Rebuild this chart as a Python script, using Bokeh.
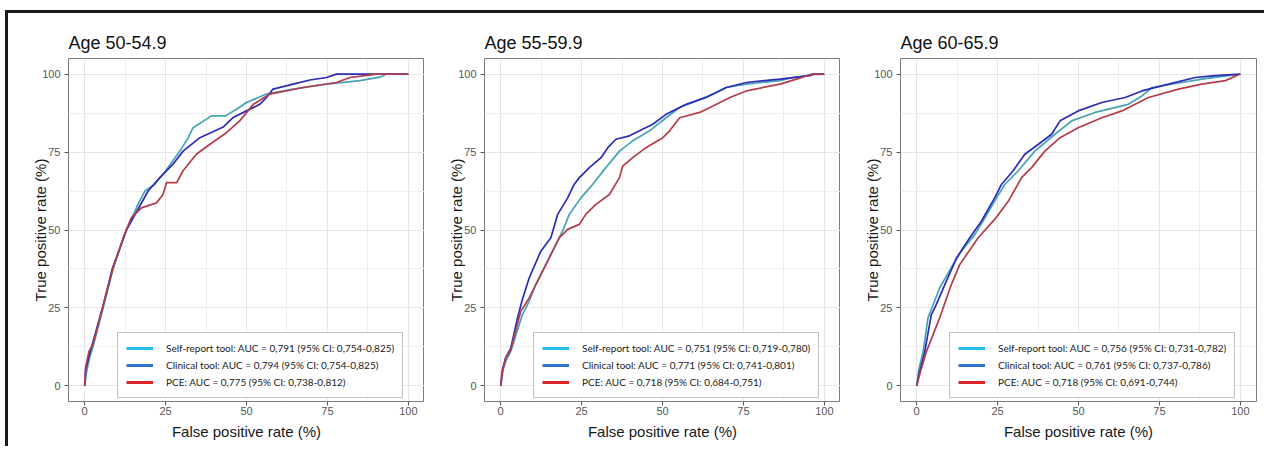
from bokeh.plotting import figure
from bokeh.layouts import row
from bokeh.models import Legend, LegendItem, FixedTicker, Range1d
from bokeh.embed import file_html
from bokeh.resources import INLINE

# ---------------- data ----------------
titles = ["Age 50-54.9", "Age 55-59.9", "Age 60-65.9"]
series_names = ["Self-report tool", "Clinical tool", "PCE"]

legend_labels_1 = ["Self-report tool: AUC = 0,791 (95% CI: 0,754-0,825)",
                   "Clinical tool: AUC = 0,794 (95% CI: 0,754-0,825)",
                   "PCE: AUC = 0,775 (95% CI: 0,738-0,812)"]
legend_labels_2 = ["Self-report tool: AUC = 0,751 (95% CI: 0,719-0,780)",
                   "Clinical tool: AUC = 0,771 (95% CI: 0,741-0,801)",
                   "PCE: AUC = 0,718 (95% CI: 0,684-0,751)"]
legend_labels_3 = ["Self-report tool: AUC = 0,756 (95% CI: 0,731-0,782)",
                   "Clinical tool: AUC = 0,761 (95% CI: 0,737-0,786)",
                   "PCE: AUC = 0,718 (95% CI: 0,691-0,744)"]

# Panel 1 (Age 50-54.9)
p1_self_fpr = [0, 0.5, 1.5, 2.7, 5.7, 8.8, 12.9, 16.5, 18.6, 21.6, 25.0, 29.4, 32.0, 33.5, 39.2, 43.5, 46.9, 50.0, 56.2, 64.4, 74.7, 85.1, 91.2, 93.3, 100]
p1_self_tpr = [0, 4, 9, 13.0, 25.0, 37.8, 50.0, 58.3, 62.5, 64.6, 68.9, 75.3, 79.6, 82.8, 86.6, 86.6, 88.7, 90.9, 93.6, 95.2, 96.8, 97.9, 99.0, 100, 100]
p1_clin_fpr = [0, 0.3, 1.2, 2.4, 5.5, 8.6, 12.9, 19.6, 23.2, 27.3, 30.4, 35.6, 42.8, 45.9, 50.0, 54.1, 56.2, 58.2, 64.4, 69.6, 74.7, 77.8, 100]
p1_clin_tpr = [0, 5, 9, 13.5, 25.0, 37.8, 50.0, 62.5, 66.8, 71.1, 75.3, 79.6, 83.0, 86.1, 88.2, 90.3, 92.5, 95.2, 96.8, 98.1, 98.9, 100, 100]
p1_pce_fpr = [0, 0.3, 1.3, 2.6, 5.6, 8.8, 11.9, 14.4, 17.5, 22.2, 24.2, 25.3, 28.4, 30.4, 34.5, 38.7, 43.8, 47.9, 52.1, 57.2, 67.5, 77.8, 82.0, 90.2, 100]
p1_pce_tpr = [0, 6, 11, 13.5, 25.5, 37.8, 47.5, 53.9, 57.1, 58.7, 61.4, 65.2, 65.2, 69.0, 74.3, 77.5, 81.2, 85.0, 90.3, 93.6, 95.7, 97.3, 98.9, 100, 100]

# Panel 2 (Age 55-59.9)
p2_self_fpr = [0, 0.7, 1.6, 3.1, 6.7, 8.8, 10.8, 13.9, 17.0, 19.1, 21.2, 24.8, 28.4, 32.5, 36.7, 40.8, 46.0, 51.1, 55.3, 60.4, 65.6, 69.7, 75.9, 86.3, 90.4, 94.5, 96.6, 100]
p2_self_tpr = [0, 5, 8, 11.0, 22.8, 27.1, 32.5, 38.9, 45.3, 49.6, 55.0, 60.3, 64.6, 70.0, 75.3, 78.6, 81.8, 86.0, 89.3, 91.4, 93.6, 95.7, 96.8, 97.9, 98.9, 99.5, 100, 100]
p2_clin_fpr = [0, 0.5, 1.5, 3.1, 5.2, 6.7, 8.8, 12.4, 15.5, 17.6, 20.7, 22.7, 24.3, 27.4, 31.0, 33.1, 35.6, 39.8, 42.9, 47.0, 51.1, 57.3, 63.5, 69.7, 75.9, 86.3, 95.6, 96.6, 100]
p2_clin_tpr = [0, 5, 9, 12.0, 21.8, 27.7, 34.6, 43.2, 47.5, 55.0, 60.3, 64.6, 66.8, 70.0, 73.2, 76.4, 79.1, 80.2, 81.8, 83.9, 87.1, 90.3, 92.5, 95.7, 97.3, 98.4, 99.5, 100, 100]
p2_pce_fpr = [0, 0.6, 1.6, 3.1, 6.2, 8.8, 11.4, 15.0, 18.1, 20.7, 24.3, 26.3, 29.4, 33.6, 36.7, 37.7, 40.8, 44.9, 50.1, 52.2, 55.3, 61.5, 65.6, 70.8, 75.9, 86.3, 91.4, 95.6, 99.7]
p2_pce_tpr = [0, 5, 9, 11.5, 23.9, 28.2, 33.5, 41.0, 47.5, 50.2, 51.8, 55.0, 58.2, 61.4, 66.8, 70.5, 73.2, 76.4, 79.6, 81.8, 86.0, 87.7, 89.8, 92.5, 94.6, 96.8, 98.4, 99.8, 100]

# Panel 3 (Age 60-65.9)
p3_self_fpr = [0, 0.6, 2.0, 3.5, 7.1, 11.2, 13.8, 18.0, 21.1, 24.7, 27.2, 31.4, 36.5, 42.7, 47.9, 55.1, 65.4, 69.6, 72.7, 82.0, 88.1, 93.3, 100]
p3_self_tpr = [0, 5, 11.0, 21.8, 31.4, 38.9, 43.2, 48.6, 53.9, 60.3, 64.6, 69.0, 75.3, 80.7, 85.0, 87.7, 90.3, 93.0, 95.7, 97.3, 98.4, 99.1, 100]
p3_clin_fpr = [0, 0.8, 2.5, 4.5, 5.6, 8.7, 12.3, 16.4, 20.0, 24.1, 26.2, 29.8, 33.4, 37.6, 41.7, 44.3, 49.9, 57.2, 64.4, 69.6, 77.8, 86.1, 92.3, 100]
p3_clin_tpr = [0, 4, 11.0, 22.8, 25.0, 32.5, 41.0, 47.5, 52.8, 60.3, 64.6, 69.0, 74.3, 77.5, 80.7, 85.0, 88.2, 90.9, 92.5, 94.6, 96.8, 98.9, 99.5, 100]
p3_pce_fpr = [0, 1.0, 3.0, 7.1, 10.7, 13.3, 19.0, 24.1, 28.3, 32.4, 35.5, 39.6, 44.3, 49.9, 57.2, 63.4, 71.6, 80.9, 88.1, 95.4, 100]
p3_pce_tpr = [0, 4, 11.0, 21.8, 32.5, 38.9, 47.5, 53.4, 59.2, 66.8, 70.0, 75.3, 79.6, 82.8, 86.0, 88.2, 92.5, 95.2, 96.8, 97.9, 100]

tick_values = [0, 25, 50, 75, 100]
minor_values = [12.5, 37.5, 62.5, 87.5]

# ---------------- styles ----------------
curve_colors = ["#45A3B5", "#2B2BB8", "#B23C4B"]
legend_colors = ["#27BEF0", "#2F74C9", "#D9222A"]
FONT = "Liberation Sans"
NAN = float("nan")

panels = [
    (titles[0], [(p1_self_fpr, p1_self_tpr), (p1_clin_fpr, p1_clin_tpr), (p1_pce_fpr, p1_pce_tpr)], legend_labels_1),
    (titles[1], [(p2_self_fpr, p2_self_tpr), (p2_clin_fpr, p2_clin_tpr), (p2_pce_fpr, p2_pce_tpr)], legend_labels_2),
    (titles[2], [(p3_self_fpr, p3_self_tpr), (p3_clin_fpr, p3_clin_tpr), (p3_pce_fpr, p3_pce_tpr)], legend_labels_3),
]


def make_panel(title, curves, labels, extra_right=0):
    p = figure(width=416 + extra_right, height=433, output_backend="svg", toolbar_location=None,
               x_range=Range1d(-5, 105), y_range=Range1d(-5, 105),
               min_border_left=60, min_border_right=0 + extra_right, min_border_top=45, min_border_bottom=45,
               x_axis_label="False positive rate (%)", y_axis_label="True positive rate (%)")
    p.title.text = title
    p.title.text_font = FONT
    p.title.text_font_size = "18px"
    p.title.text_font_style = "normal"
    p.title.text_color = "#111111"
    p.title.align = "left"
    p.title.standoff = 11

    p.background_fill_color = "white"
    p.border_fill_color = "white"
    p.outline_line_color = "#7a7a7a"
    p.outline_line_width = 1

    for ax in (p.xaxis[0], p.yaxis[0]):
        ax.ticker = FixedTicker(ticks=tick_values, minor_ticks=minor_values)
        ax.axis_line_color = None
        ax.major_tick_line_color = "#555555"
        ax.major_tick_out = 4
        ax.major_tick_in = 0
        ax.minor_tick_line_color = None
        ax.major_label_text_font = FONT
        ax.major_label_text_font_size = "11px"
        ax.major_label_text_color = "#555555"
        ax.axis_label_text_font = FONT
        ax.axis_label_text_font_size = "15px"
        ax.axis_label_text_font_style = "normal"
        ax.axis_label_text_color = "#1a1a1a"
    p.xaxis[0].major_label_standoff = 1
    p.xaxis[0].axis_label_standoff = 5
    p.yaxis[0].major_label_standoff = 4
    p.yaxis[0].axis_label_standoff = -10

    for g in (p.xgrid[0], p.ygrid[0]):
        g.grid_line_color = "#e6e6e6"
        g.grid_line_width = 1
        g.minor_grid_line_color = "#eeeeee"
        g.minor_grid_line_width = 1

    for (fx, ty), col in zip(curves, curve_colors):
        p.line(fx, ty, line_color=col, line_width=1.7)

    items = []
    for lab, col in zip(labels, legend_colors):
        r = p.line(x=[NAN], y=[NAN], line_color=col, line_width=3)
        items.append(LegendItem(label=lab, renderers=[r]))
    leg = Legend(items=items, location=(49, 3), margin=0, padding=8, spacing=3,
                 glyph_width=27, glyph_height=14, label_height=14, label_standoff=13,
                 label_text_font="Lato", label_text_font_size="10px",
                 label_text_color="#222222",
                 border_line_color="#888888", border_line_width=1,
                 background_fill_color="white", background_fill_alpha=1)
    p.add_layout(leg, "center")
    return p


figs = [make_panel(t, c, l, extra_right=(8 if i == 2 else 0)) for i, (t, c, l) in enumerate(panels)]
layout = row(*figs, margin=(10, 0, 0, 5),
             styles={"border-top": "3px solid #1a1a1a", "border-left": "3px solid #1a1a1a"})

open("out.html", "w").write(file_html(layout, INLINE))
